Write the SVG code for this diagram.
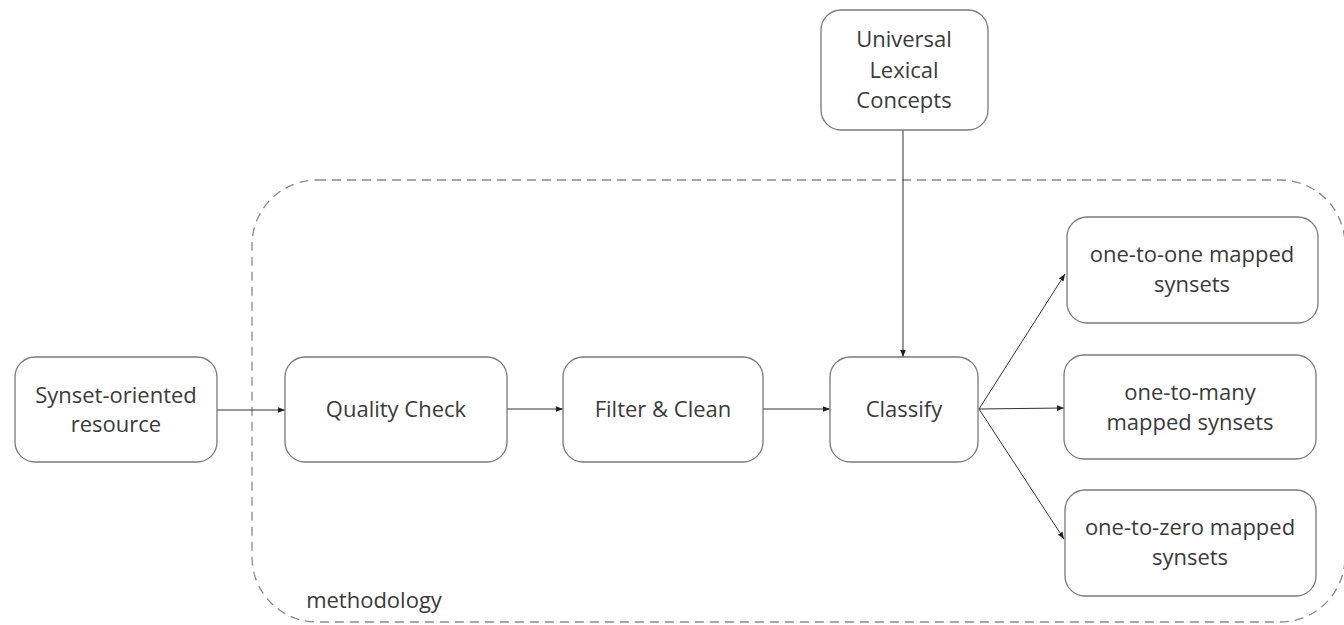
<svg xmlns="http://www.w3.org/2000/svg" width="1344" height="625" viewBox="0 0 1344 625">
  <defs>
    <marker id="arrow" viewBox="0 0 10 10" refX="10" refY="5" markerWidth="7" markerHeight="7" markerUnits="userSpaceOnUse" orient="auto">
      <path d="M0,1 L10,5 L0,9 z" fill="#222"/>
    </marker>
    <style>
      .box { fill: #fff; stroke: #7a7a7a; stroke-width: 1.3; }
      .label { font-family: "Open Sans", "Liberation Sans", sans-serif; font-size: 22px; fill: #3a3a3a; text-anchor: middle; }
      .edge { stroke: #333; stroke-width: 1; fill: none; marker-end: url(#arrow); }
      .frame { fill: none; stroke: #8a8a8a; stroke-width: 1.3; stroke-dasharray: 9 6; }
    </style>
  </defs>
  <rect width="1344" height="625" fill="#fff"/>

  <!-- methodology frame -->
  <g id="methodology">
    <rect class="frame" x="252" y="180" width="1093" height="442" rx="65" ry="65"/>
    <text class="label" x="374" y="608">methodology</text>
  </g>

  <!-- connectors -->
  <g id="connectors">
    <line class="edge" x1="217" y1="410" x2="285" y2="410"/>
    <line class="edge" x1="507" y1="409" x2="563" y2="409"/>
    <line class="edge" x1="763" y1="409" x2="830" y2="409"/>
    <line class="edge" x1="903" y1="130" x2="903" y2="357"/>
    <line class="edge" x1="979" y1="409" x2="1065" y2="274"/>
    <line class="edge" x1="979" y1="409" x2="1064" y2="408"/>
    <line class="edge" x1="979" y1="409" x2="1064" y2="539"/>
  </g>

  <g id="synset-resource">
    <rect class="box" x="15" y="357" width="202" height="105" rx="20"/>
    <text class="label" x="116" y="403">Synset-oriented</text>
    <text class="label" x="116" y="432">resource</text>
  </g>

  <g id="quality-check">
    <rect class="box" x="285" y="357" width="222" height="105" rx="20"/>
    <text class="label" x="396" y="417">Quality Check</text>
  </g>

  <g id="filter-clean">
    <rect class="box" x="563" y="357" width="200" height="105" rx="20"/>
    <text class="label" x="663" y="417">Filter &amp; Clean</text>
  </g>

  <g id="classify">
    <rect class="box" x="830" y="357" width="148" height="105" rx="20"/>
    <text class="label" x="904" y="417">Classify</text>
  </g>

  <g id="universal-lexical-concepts">
    <rect class="box" x="821" y="10" width="167" height="120" rx="20"/>
    <text class="label" x="904" y="47">Universal</text>
    <text class="label" x="904" y="78">Lexical</text>
    <text class="label" x="904" y="108">Concepts</text>
  </g>

  <g id="one-to-one">
    <rect class="box" x="1067" y="217" width="251" height="106" rx="20"/>
    <text class="label" x="1192" y="262">one-to-one mapped</text>
    <text class="label" x="1192" y="292">synsets</text>
  </g>

  <g id="one-to-many">
    <rect class="box" x="1064" y="355" width="252" height="104" rx="20"/>
    <text class="label" x="1190" y="400">one-to-many</text>
    <text class="label" x="1190" y="430">mapped synsets</text>
  </g>

  <g id="one-to-zero">
    <rect class="box" x="1065" y="490" width="251" height="106" rx="20"/>
    <text class="label" x="1190" y="535">one-to-zero mapped</text>
    <text class="label" x="1190" y="565">synsets</text>
  </g>
</svg>
